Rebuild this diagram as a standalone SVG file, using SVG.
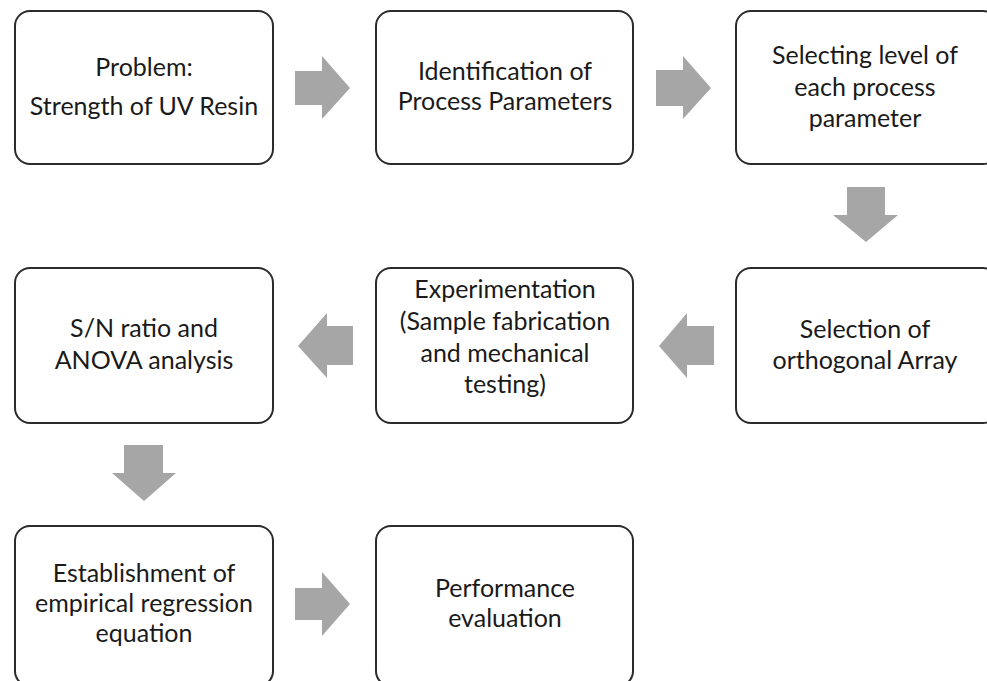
<svg xmlns="http://www.w3.org/2000/svg" width="987" height="681" viewBox="0 0 987 681">
<style>
.box{fill:#fff;stroke:#2b2b2b;stroke-width:2}
.t{font-family:Lato,"Open Sans","Liberation Sans",sans-serif;font-size:25px;fill:#1a1a1a;text-anchor:middle}
.arr{fill:#a6a6a6}
</style>
<rect width="987" height="681" fill="#fff"/>
<g id="n1"><rect class="box" x="15" y="11" width="258" height="153" rx="15"/>
<text class="t" x="144" y="76">Problem:</text><text class="t" x="144" y="115">Strength of UV Resin</text></g>
<g id="n2"><rect class="box" x="376" y="11" width="257" height="153" rx="15"/>
<text class="t" x="505" y="80">Identification of</text><text class="t" x="505" y="110">Process Parameters</text></g>
<g id="n3"><rect class="box" x="736" y="11" width="262" height="153" rx="15"/>
<text class="t" x="865" y="64">Selecting level of</text><text class="t" x="865" y="96">each process</text><text class="t" x="865" y="127">parameter</text></g>
<g id="n4"><rect class="box" x="15" y="268" width="258" height="155" rx="15"/>
<text class="t" x="144" y="337">S/N ratio and</text><text class="t" x="144" y="369">ANOVA analysis</text></g>
<g id="n5"><rect class="box" x="376" y="268" width="257" height="155" rx="15"/>
<text class="t" x="505" y="298">Experimentation</text><text class="t" x="505" y="330">(Sample fabrication</text><text class="t" x="505" y="362">and mechanical</text><text class="t" x="505" y="393">testing)</text></g>
<g id="n6"><rect class="box" x="736" y="268" width="262" height="155" rx="15"/>
<text class="t" x="865" y="338">Selection of</text><text class="t" x="865" y="369">orthogonal Array</text></g>
<g id="n7"><rect class="box" x="15" y="526" width="258" height="160" rx="15"/>
<text class="t" x="144" y="582">Establishment of</text><text class="t" x="144" y="612">empirical regression</text><text class="t" x="144" y="642">equation</text></g>
<g id="n8"><rect class="box" x="376" y="526" width="257" height="160" rx="15"/>
<text class="t" x="505" y="597">Performance</text><text class="t" x="505" y="627">evaluation</text></g>
<g id="connectors">
<polygon class="arr" points="295,71 322,71 322,56 350,88 322,119 322,105 295,105"/>
<polygon class="arr" points="656,70 683,70 683,56 711,88 683,119 683,106 656,106"/>
<polygon class="arr" points="847,187 885,187 885,215 898,215 866,242 833,215 847,215"/>
<polygon class="arr" points="714,326 687,326 687,313 659,346 687,378 687,365 714,365"/>
<polygon class="arr" points="353,326 327,326 327,313 298,346 327,378 327,365 353,365"/>
<polygon class="arr" points="124,445 163,445 163,473 176,473 144,501 112,473 124,473"/>
<polygon class="arr" points="295,588 322,588 322,572 350,604 322,636 322,620 295,620"/>
</g>
</svg>
